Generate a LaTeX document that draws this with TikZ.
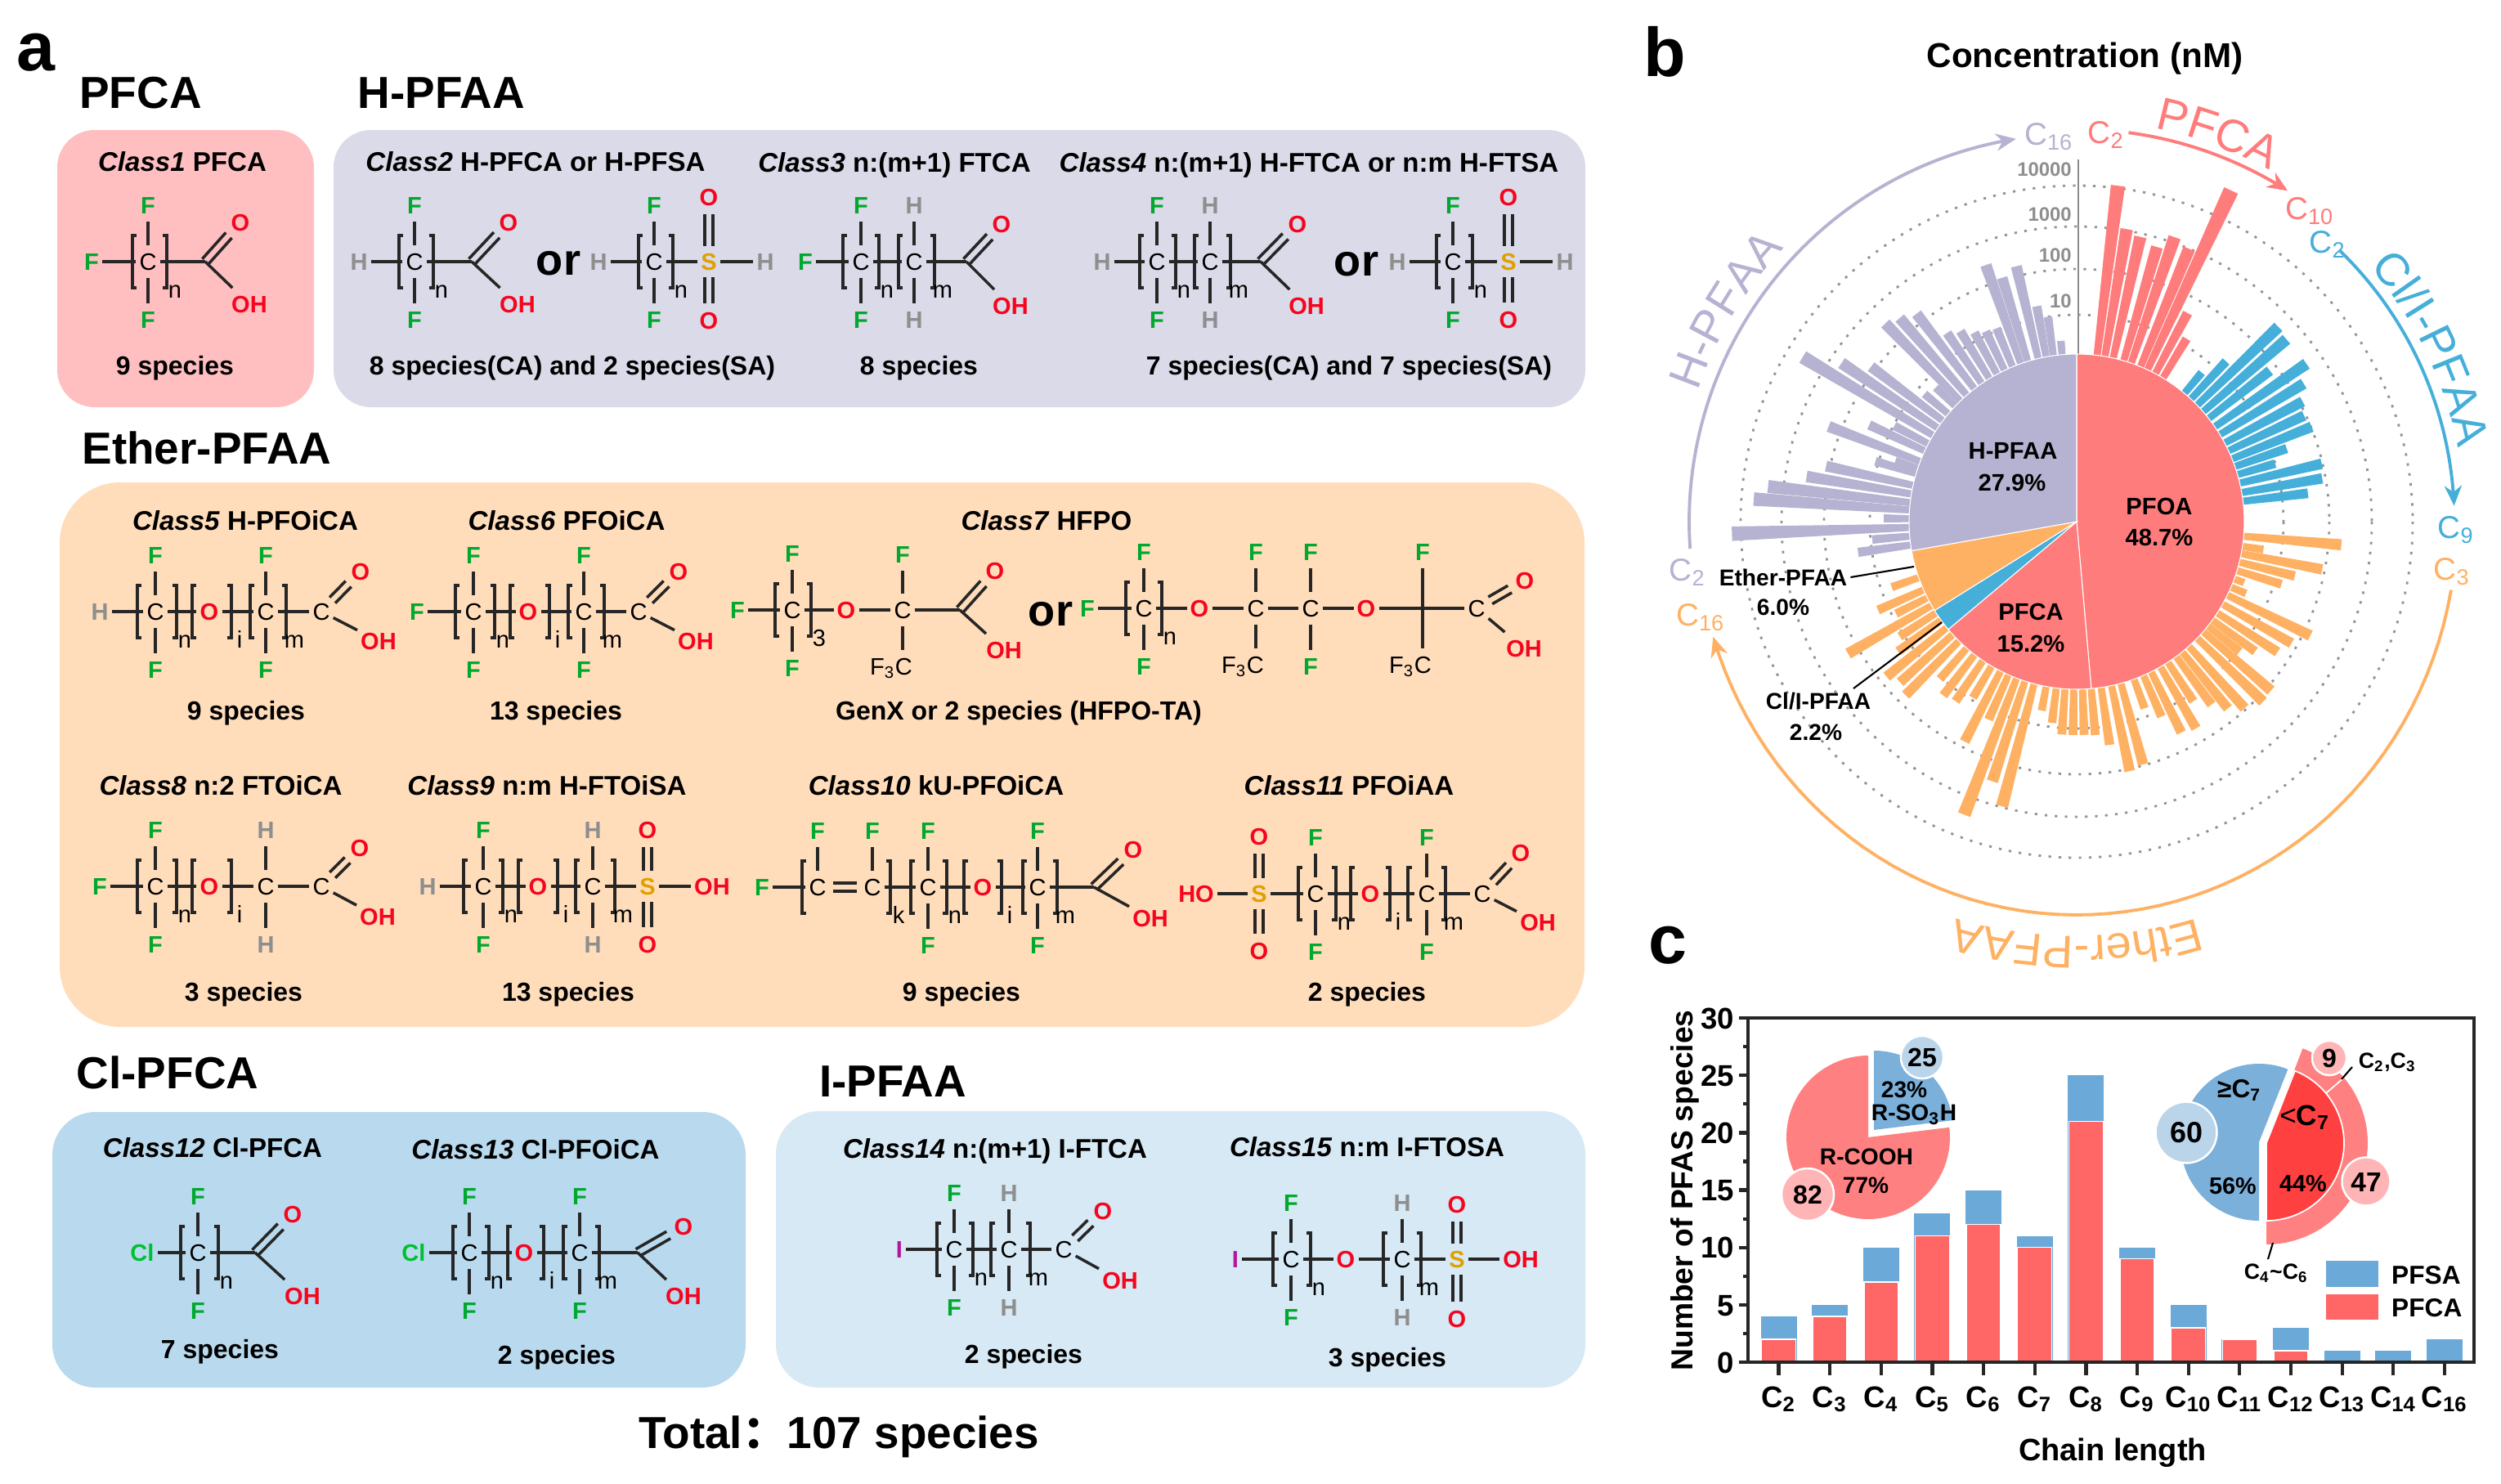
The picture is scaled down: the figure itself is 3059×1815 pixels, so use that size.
\documentclass[tikz,border=0pt]{standalone}
\usepackage{fontspec}
\setmainfont{Liberation Sans}
\newfontfamily\cjkfont{Noto Sans CJK SC}
\usetikzlibrary{calc,arrows.meta,decorations.text}

\definecolor{colF}{HTML}{00A82E}
\definecolor{colH}{HTML}{8E8E8E}
\definecolor{colO}{HTML}{F5051E}
\definecolor{colS}{HTML}{E0A000}
\definecolor{colCl}{HTML}{00C030}
\definecolor{colI}{HTML}{B5159D}
\definecolor{boxP}{HTML}{FFBFC1}
\definecolor{boxH}{HTML}{DADAE8}
\definecolor{boxE}{HTML}{FFDDBB}
\definecolor{boxC}{HTML}{B9DAEE}
\definecolor{boxI}{HTML}{D6E9F5}
\definecolor{pieP}{HTML}{FF7C7C}
\definecolor{pieH}{HTML}{B5B3D1}
\definecolor{pieE}{HTML}{FFB163}
\definecolor{pieC}{HTML}{45AFDA}
\definecolor{barR}{HTML}{FF6666}
\definecolor{barB}{HTML}{6AA9D8}
\definecolor{insR}{HTML}{FF8080}
\definecolor{insD}{HTML}{FF4040}
\definecolor{insB}{HTML}{7BB0DA}
\definecolor{bubR}{HTML}{FFB5B5}
\definecolor{bubB}{HTML}{BAD5EA}

\tikzset{
  x=0.01cm,y=-0.01cm,
  tb/.style={font=\fontsize{#1}{#1}\selectfont\bfseries,text height={0.72*#1pt},text depth=0pt,inner sep=1pt},
  tr/.style={font=\fontsize{#1}{#1}\selectfont,text height={0.72*#1pt},text depth=0pt,inner sep=1pt},
  head/.style={tb=15.6},
  clabel/.style={tb=9.4},
  spec/.style={tb=9.1},
  panel/.style={tb=24},
  orword/.style={tb=15.4},
  atom/.style={tr=8.25,inner xsep=1pt,inner ysep=2.5pt},
  atomb/.style={tb=8.25,inner xsep=1pt,inner ysep=2.5pt},
  bond/.style={line width=1pt,black!85},
  brack/.style={line width=.9pt,black!85},
  axisline/.style={line width=1.2pt,black!85},
  ring/.style={line width=.8pt,black!42,dash pattern=on .9pt off 2.6pt},
  arcline/.style={line width=1.1pt,-{Stealth[length=7pt,width=6pt]}},
  leader/.style={line width=.6pt,black},
  bubble/.style={circle,draw=white,line width=.7pt},
}

\newcommand{\atm}[5]{\node[atomb,text=#4] (#1) at (#2,#3) {#5};}
\newcommand{\cunit}[5]{%
  \node[atom] (#1) at (#2,#3) {C};
  \node[atomb,text=col#4] (#1t) at (#2,#3-69) {#4};
  \node[atomb,text=col#5] (#1b) at (#2,#3+71) {#5};
  \draw[bond] (#1) -- (#1t);
  \draw[bond] (#1) -- (#1b);}
\newcommand{\brk}[5]{%
  \draw[brack] (#2-#4+5,#3-32) -| (#2-#4,#3+32) -- ++(5,0);
  \draw[brack] (#2+#4-5,#3-32) -| (#2+#4,#3+32) -- ++(-5,0);
  \node[atom,inner ysep=0pt] (#1) at (#2+#4+10,#3+34) {#5};}
\newcommand{\dbl}[4]{%
  \draw[bond,shorten <=#3,shorten >=#4] ($(#1)!1.4pt!90:(#2)$) -- ($(#2)!1.4pt!-90:(#1)$);
  \draw[bond,shorten <=#3,shorten >=#4] ($(#1)!1.4pt!-90:(#2)$) -- ($(#2)!1.4pt!90:(#1)$);}
\newcommand{\acid}[7]{%
  \coordinate (#1) at (#2,#3);
  \atm{#1o}{#2+#4}{#3+#5}{colO}{O}
  \atm{#1h}{#2+#6}{#3+#7}{colO}{OH}
  \dbl{#1}{#1o}{0pt}{6pt}
  \draw[bond] (#1) -- (#1h);}
\newcommand{\acidc}[7]{%
  \node[atom] (#1) at (#2,#3) {C};
  \atm{#1o}{#2+#4}{#3+#5}{colO}{O}
  \atm{#1h}{#2+#6}{#3+#7}{colO}{OH}
  \dbl{#1}{#1o}{5.5pt}{6pt}
  \draw[bond] (#1) -- (#1h);}
\newcommand{\sulf}[5]{%
  \node[atomb,text=colS] (#1) at (#2,#3) {S};
  \atm{#1t}{#2}{#3+#4}{colO}{O}
  \atm{#1b}{#2}{#3+#5}{colO}{O}
  \dbl{#1}{#1t}{5.5pt}{6pt}
  \dbl{#1}{#1b}{5.5pt}{6pt}}
\newcommand{\sector}[6]{%
  \path[#1] (#2,#3) -- plot[domain=#5:#6,samples=70] ({#2+#4*sin(\x)},{#3-#4*cos(\x)}) -- cycle;}
\newcommand{\bars}[2]{%
  \foreach \ang/\rad in {#2}
    \fill[#1] ({\ang-91.2}:205) -- ({\ang-91.2}:\rad) -- ({\ang-88.8}:\rad) -- ({\ang-88.8}:205) -- cycle;}
\newcommand{\bigarc}[6]{%
  \draw[arcline,#1] plot[domain=#2:#3,samples=60] ({#4*sin(\x)},{-#5*cos(\x)});}
\newcommand{\arctext}[5]{%
  \path[decorate,decoration={text along path,text align=center,
    text={|\fontsize{16}{16}\selectfont\color{#1}|#2}}]
    plot[domain=#4:#5,samples=60] ({#3*sin(\x)},{-#3*cos(\x)});}

\begin{document}
\begin{tikzpicture}
\useasboundingbox (0,0) rectangle (3059,1815);
\fill[white] (0,0) rectangle (3059,1815);

\fill[boxP,rounded corners=13pt] (70,159) rectangle (384,498);
\fill[boxH,rounded corners=13pt] (408,159) rectangle (1939,498);
\fill[boxE,rounded corners=21pt] (73,590) rectangle (1938,1256);
\fill[boxC,rounded corners=15pt] (64,1360) rectangle (912,1697);
\fill[boxI,rounded corners=15pt] (949,1359) rectangle (1939,1697);

\node[panel] (pa) at (44,56) {a};
\node[panel] (pb) at (2036,63) {b};
\node[panel] (pc) at (2040,1148) {c};
\node[head] (hP) at (172,113) {PFCA};
\node[head] (hH) at (540,113) {H-PFAA};
\node[head] (hE) at (253,548) {Ether-PFAA};
\node[head] (hC) at (205,1312) {Cl-PFCA};
\node[head] (hI) at (1092,1322) {I-PFAA};
\node[head] (total) at (1026,1752) {Total{\cjkfont ：}107 species};

\node[clabel] (l1) at (223,198) {\textit{Class1} PFCA};
\node[clabel] (l2) at (655,198) {\textit{Class2} H-PFCA or H-PFSA};
\node[clabel] (l3) at (1094,199) {\textit{Class3} n:(m+1) FTCA};
\node[clabel] (l4) at (1601,199) {\textit{Class4} n:(m+1) H-FTCA or n:m H-FTSA};
\node[clabel] (l5) at (300,637) {\textit{Class5} H-PFOiCA};
\node[clabel] (l6) at (693,637) {\textit{Class6} PFOiCA};
\node[clabel] (l7) at (1280,637) {\textit{Class7} HFPO};
\node[clabel] (l8) at (270,961) {\textit{Class8} n:2 FTOiCA};
\node[clabel] (l9) at (669,961) {\textit{Class9} n:m H-FTOiSA};
\node[clabel] (l10) at (1145,961) {\textit{Class10} kU-PFOiCA};
\node[clabel] (l11) at (1650,961) {\textit{Class11} PFOiAA};
\node[clabel] (l12) at (260,1404) {\textit{Class12} Cl-PFCA};
\node[clabel] (l13) at (655,1406) {\textit{Class13} Cl-PFOiCA};
\node[clabel] (l14) at (1217,1405) {\textit{Class14} n:(m+1) I-FTCA};
\node[clabel] (l15) at (1672,1403) {\textit{Class15} n:m I-FTOSA};

\node[spec] (s1) at (214,447) {9 species};
\node[spec] (s2) at (700,447) {8 species(CA) and 2 species(SA)};
\node[spec] (s3) at (1124,447) {8 species};
\node[spec] (s4) at (1650,447) {7 species(CA) and 7 species(SA)};
\node[spec] (s5) at (301,869) {9 species};
\node[spec] (s6) at (680,869) {13 species};
\node[spec] (s7) at (1246,869) {GenX or 2 species (HFPO-TA)};
\node[spec] (s8) at (298,1213) {3 species};
\node[spec] (s9) at (695,1213) {13 species};
\node[spec] (s10) at (1176,1213) {9 species};
\node[spec] (s11) at (1672,1213) {2 species};
\node[spec] (s12) at (269,1650) {7 species};
\node[spec] (s13) at (681,1657) {2 species};
\node[spec] (s14) at (1252,1656) {2 species};
\node[spec] (s15) at (1697,1660) {3 species};

\node[orword] (or1) at (683,317) {or};
\node[orword] (or2) at (1659,318) {or};
\node[orword] (or3) at (1285,746) {or};

% class 1
\atm{aF}{112}{320}{colF}{F}
\cunit{aC}{181}{320}{F}{F}
\acid{aA}{251}{320}{43}{-48}{54}{52}
\draw[bond] (aF) -- (aC) -- (aA);
\brk{aN}{183}{320}{21}{n}

% class 2
\atm{bH}{439}{320}{colH}{H}
\cunit{bC}{507}{320}{F}{F}
\acid{bA}{577}{320}{45}{-48}{56}{52}
\draw[bond] (bH) -- (bC) -- (bA);
\brk{bN}{509}{320}{21}{n}
\atm{cH}{732}{320}{colH}{H}
\cunit{cC}{800}{320}{F}{F}
\sulf{cS}{867}{320}{-79}{72}
\atm{cE}{936}{320}{colH}{H}
\draw[bond] (cH) -- (cC) -- (cS) -- (cE);
\brk{cN}{802}{320}{21}{n}

% class 3
\atm{dF}{985}{320}{colF}{F}
\cunit{dC}{1053}{320}{F}{F}
\cunit{dD}{1118}{320}{H}{H}
\acid{dA}{1182}{320}{43}{-46}{54}{54}
\draw[bond] (dF) -- (dC) -- (dD) -- (dA);
\brk{dN}{1053}{320}{22}{n}
\brk{dM}{1121}{320}{22}{m}

% class 4
\atm{eH}{1348}{320}{colH}{H}
\cunit{eC}{1415}{320}{F}{F}
\cunit{eD}{1480}{320}{H}{H}
\acid{eA}{1542}{320}{45}{-46}{56}{54}
\draw[bond] (eH) -- (eC) -- (eD) -- (eA);
\brk{eN}{1416}{320}{22}{n}
\brk{eM}{1483}{320}{22}{m}
\atm{fH}{1709}{320}{colH}{H}
\cunit{fC}{1777}{320}{F}{F}
\sulf{fS}{1845}{320}{-79}{71}
\atm{fE}{1914}{320}{colH}{H}
\draw[bond] (fH) -- (fC) -- (fS) -- (fE);
\brk{fN}{1779}{320}{22}{n}

% class 5
\atm{gH}{122}{748}{colH}{H}
\cunit{gC}{190}{748}{F}{F}
\atm{gO}{256}{748}{colO}{O}
\cunit{gD}{325}{748}{F}{F}
\acidc{gA}{393}{748}{48}{-49}{70}{36}
\draw[bond] (gH) -- (gC) -- (gO) -- (gD) -- (gA);
\brk{gN}{192}{748}{24}{n}
\brk{gI}{259}{748}{24}{i}
\brk{gM}{328}{748}{22}{m}

% class 6
\atm{hF}{510}{748}{colF}{F}
\cunit{hC}{579}{748}{F}{F}
\atm{hO}{646}{748}{colO}{O}
\cunit{hD}{714}{748}{F}{F}
\acidc{hA}{781}{748}{49}{-49}{70}{36}
\draw[bond] (hF) -- (hC) -- (hO) -- (hD) -- (hA);
\brk{hN}{581}{748}{24}{n}
\brk{hI}{648}{748}{24}{i}
\brk{hM}{717}{748}{22}{m}

% class 7
\atm{iF}{902}{746}{colF}{F}
\cunit{iC}{969}{746}{F}{F}
\atm{iO}{1035}{746}{colO}{O}
\node[atom] (iD) at (1104,746) {C};
\atm{iT}{1104}{678}{colF}{F}
\node[atom] (iB) at (1090,815) {F\textsubscript{3}C};
\acid{iA}{1174}{746}{43}{-48}{54}{49}
\draw[bond] (iF) -- (iC) -- (iO) -- (iD) -- (iA);
\draw[bond] (iD) -- (iT);
\draw[bond] (iD) -- (iD |- iB.north);
\brk{iN}{970}{746}{22}{3}

\atm{jF}{1330}{744}{colF}{F}
\cunit{jC}{1399}{744}{F}{F}
\atm{jO}{1467}{744}{colO}{O}
\node[atom] (jD) at (1536,744) {C};
\atm{jT}{1536}{675}{colF}{F}
\node[atom] (jB) at (1520,813) {F\textsubscript{3}C};
\cunit{jE}{1603}{744}{F}{F}
\atm{jP}{1671}{744}{colO}{O}
\coordinate (jG) at (1740,744);
\atm{jU}{1740}{675}{colF}{F}
\node[atom] (jV) at (1725,813) {F\textsubscript{3}C};
\acidc{jA}{1806}{744}{59}{-34}{58}{49}
\draw[bond] (jF) -- (jC) -- (jO) -- (jD) -- (jE) -- (jP) -- (jG) -- (jA);
\draw[bond] (jD) -- (jT);
\draw[bond] (jD) -- (jD |- jB.north);
\draw[bond] (jU) -- (jG) -- (jG |- jV.north);
\brk{jN}{1399}{744}{22}{n}

% class 8
\atm{kF}{122}{1084}{colF}{F}
\cunit{kC}{190}{1084}{F}{F}
\atm{kO}{256}{1084}{colO}{O}
\cunit{kD}{325}{1084}{H}{H}
\acidc{kA}{393}{1084}{47}{-47}{69}{37}
\draw[bond] (kF) -- (kC) -- (kO) -- (kD) -- (kA);
\brk{kN}{192}{1084}{24}{n}
\brk{kI}{259}{1084}{24}{i}

% class 9
\atm{mH}{523}{1084}{colH}{H}
\cunit{mC}{591}{1084}{F}{F}
\atm{mO}{658}{1084}{colO}{O}
\cunit{mD}{725}{1084}{H}{H}
\sulf{mS}{792}{1084}{-69}{71}
\atm{mE}{871}{1084}{colO}{OH}
\draw[bond] (mH) -- (mC) -- (mO) -- (mD) -- (mS) -- (mE);
\brk{mN}{591}{1084}{24}{n}
\brk{mI}{658}{1084}{24}{i}
\brk{mM}{728}{1084}{24}{m}

% class 10
\atm{nF}{932}{1085}{colF}{F}
\node[atom] (nC) at (1000,1085) {C};
\atm{nT}{1000}{1016}{colF}{F}
\node[atom] (nD) at (1067,1085) {C};
\atm{nU}{1067}{1016}{colF}{F}
\cunit{nE}{1135}{1085}{F}{F}
\atm{nO}{1202}{1085}{colO}{O}
\cunit{nG}{1269}{1085}{F}{F}
\acid{nA}{1338}{1085}{48}{-46}{69}{38}
\draw[bond] (nF) -- (nC);
\dbl{nC}{nD}{5.5pt}{5.5pt}
\draw[bond] (nC) -- (nT);
\draw[bond] (nD) -- (nU);
\draw[bond] (nD) -- (nE) -- (nO) -- (nG) -- (nA);
\brk{nK}{1035}{1085}{54}{k}
\brk{nN}{1136}{1085}{22}{n}
\brk{nI}{1202}{1085}{23}{i}
\brk{nM}{1272}{1085}{21}{m}

% class 11
\atm{pH}{1463}{1093}{colO}{HO}
\sulf{pS}{1540}{1093}{-70}{70}
\cunit{pC}{1609}{1093}{F}{F}
\atm{pO}{1676}{1093}{colO}{O}
\cunit{pD}{1745}{1093}{F}{F}
\acidc{pA}{1813}{1093}{47}{-50}{68}{35}
\draw[bond] (pH) -- (pS) -- (pC) -- (pO) -- (pD) -- (pA);
\brk{pN}{1611}{1093}{23}{n}
\brk{pI}{1676}{1093}{24}{i}
\brk{pM}{1745}{1093}{23}{m}

% class 12
\atm{qL}{174}{1532}{colCl}{Cl}
\cunit{qC}{242}{1532}{F}{F}
\acid{qA}{312}{1532}{46}{-47}{58}{53}
\draw[bond] (qL) -- (qC) -- (qA);
\brk{qN}{244}{1532}{23}{n}

% class 13
\atm{rL}{506}{1532}{colCl}{Cl}
\cunit{rC}{574}{1532}{F}{F}
\atm{rO}{641}{1532}{colO}{O}
\cunit{rD}{709}{1532}{F}{F}
\acid{rA}{780}{1532}{56}{-32}{56}{53}
\draw[bond] (rL) -- (rC) -- (rO) -- (rD) -- (rA);
\brk{rN}{576}{1532}{22}{n}
\brk{rI}{643}{1532}{22}{i}
\brk{rM}{711}{1532}{22}{m}

% class 14
\atm{tL}{1100}{1528}{colI}{I}
\cunit{tC}{1167}{1528}{F}{F}
\cunit{tD}{1234}{1528}{H}{H}
\acidc{tA}{1301}{1528}{48}{-47}{69}{38}
\draw[bond] (tL) -- (tC) -- (tD) -- (tA);
\brk{tN}{1168}{1528}{22}{n}
\brk{tM}{1236}{1528}{24}{m}

% class 15
\atm{uL}{1511}{1540}{colI}{I}
\cunit{uC}{1579}{1540}{F}{F}
\atm{uO}{1646}{1540}{colO}{O}
\cunit{uD}{1715}{1540}{H}{H}
\sulf{uS}{1782}{1540}{-67}{73}
\atm{uE}{1860}{1540}{colO}{OH}
\draw[bond] (uL) -- (uC) -- (uO) -- (uD) -- (uS) -- (uE);
\brk{uN}{1580}{1540}{23}{n}
\brk{uM}{1715}{1540}{23}{m}

% panel b
\node[tb=12] (ctitle) at (2550,67) {Concentration (nM)};
\begin{scope}[shift={(2540,638)}]
\foreach \rr in {253,309,361,411}
  \draw[ring] (0,0) circle[radius=\rr];
\draw[line width=.5pt,black!45] (2,-443) -- (2,0);
\node[tb=6.8,text=colH,anchor=east] (t4) at (-2,-431) {10000};
\node[tb=6.8,text=colH,anchor=east] (t3) at (-2,-376) {1000};
\node[tb=6.8,text=colH,anchor=east] (t2) at (-2,-326) {100};
\node[tb=6.8,text=colH,anchor=east] (t1) at (-2,-270) {10};

\bars{pieP}{7/414,9.7/363,12.6/357,16.3/350,19/368,22.4/361,25/447,28/289,31/261}
\bars{pieC}{40/238,43/268,46/343,49/340,52/300,55.5/341,58.7/325,62/313,65/307,68/310,70.8/272,73.7/253,76.7/308,80/305,83/285}
\bars{pieE}{95/325,98.5/231,101/306,104/275,107/262,110/218,113/225,116/318,119.5/302,123/293,126/270,128.5/255,131/315,134/317,138/307,141/294,143.6/278,147/262,150/292,153.6/288,156.5/260,160/243,164.7/308,168/312,171.6/276,175/262,178/261,181/261,184/261,187/248,190.5/235,194.7/360,198/334,201/384,204/265,207/302,210.5/250,214/265,217.5/268,221/255,224.6/298,227.7/292,230.8/300,234/270,237/258,240/323,243/248,246/266,250.5/240}
\bars{pieH}{262/270,265/251,268/422,271/236,274/396,276.5/380,279.5/335,282.5/314,286.7/257,288.5/234,291/325,295/280,297.7/252,301/391,304/347,307/315,310/243,313.6/238,316/337,319/330,322.4/321,325.5/280,328.6/273,331.6/263,334.5/258,337.5/256,340.5/333,343/312,346.7/321,349.5/268,352/253,355/222}

\sector{fill=pieP,draw=white,line width=.3pt}{0}{0}{205}{0}{175}
\sector{fill=pieP,draw=white,line width=.3pt}{0}{0}{205}{175}{230}
\sector{fill=pieC,draw=white,line width=.3pt}{0}{0}{205}{230}{238}
\sector{fill=pieE,draw=white,line width=.3pt}{0}{0}{205}{238}{260}
\sector{fill=pieH,draw=white,line width=.3pt}{0}{0}{205}{260}{360}

\bigarc{pieP}{7.6}{32.5}{480}{480}{}
\bigarc{pieC}{44}{87.6}{462}{462}{}
\bigarc{pieE}{100}{253}{465}{481}{}
\bigarc{pieH}{266}{351}{474}{474}{}

\arctext{pieP}{PFCA}{490}{-10}{50}
\arctext{pieC}{Cl/I-PFAA}{475}{34}{94}
\arctext{pieE}{Ether-PFAA}{507}{150}{210}
\arctext{pieH}{H-PFAA}{490}{271}{331}
\end{scope}

\node[tr=11,text=pieH] (n1) at (2506,164) {C\textsubscript{16}};
\node[tr=11,text=pieP] (n2) at (2576,162) {C\textsubscript{2}};
\node[tr=11,text=pieP] (n3) at (2825,255) {C\textsubscript{10}};
\node[tr=11,text=pieC] (n4) at (2847,296) {C\textsubscript{2}};
\node[tr=11,text=pieC] (n5) at (3004,645) {C\textsubscript{9}};
\node[tr=11,text=pieE] (n6) at (2999,696) {C\textsubscript{3}};
\node[tr=11,text=pieE] (n7) at (2080,752) {C\textsubscript{16}};
\node[tr=11,text=pieH] (n8) at (2064,697) {C\textsubscript{2}};

\node[tb=8.3] (pl1) at (2462,551) {H-PFAA};
\node[tb=8.3] (pl2) at (2461,590) {27.9\%};
\node[tb=8.3] (pl3) at (2641,619) {PFOA};
\node[tb=8.3] (pl4) at (2641,657) {48.7\%};
\node[tb=8.3] (pl5) at (2484,748) {PFCA};
\node[tb=8.3] (pl6) at (2484,787) {15.2\%};
\node[tb=8] (pl7) at (2181,706) {Ether-PFAA};
\node[tb=8] (pl8) at (2181,742) {6.0\%};
\node[tb=8] (pl9) at (2224,857) {Cl/I-PFAA};
\node[tb=8] (pl10) at (2221,895) {2.2\%};
\coordinate (ptE) at (2341,693);
\coordinate (ptC) at (2375,761);
\coordinate (ptD) at (2267,842);
\draw[leader] (pl7.east) -- (ptE);
\draw[leader] (ptD) -- (ptC);

% panel c
\foreach \i/\lab/\red/\tot in {0/2/2/4,1/3/4/5,2/4/7/10,3/5/11/13,4/6/12/15,5/7/10/11,6/8/21/25,7/9/9/10,8/10/3/5,9/11/2/2,10/12/1/3,11/13/0/1,12/14/0/1,13/16/0/2}{
  \pgfmathsetmacro\bx{2175.5+62.65*\i}
  \fill[barB] (\bx-22,1666) rectangle (\bx+22,1666-14.03*\tot);
  \ifnum\red>0
    \fill[barR,draw=white,line width=.4pt] (\bx-21,1666) rectangle (\bx+21,1666-14.03*\red);
  \fi
  \draw[axisline] (\bx,1666) -- (\bx,1682);
  \node[tb=10.4] (xl\i) at (\bx,1708) {C\textsubscript{\lab}};
}
\draw[axisline] (2138,1245) rectangle (3026,1666);
\foreach \v in {0,5,...,30}{
  \draw[axisline] (2138,1666-14.03*\v) -- (2127,1666-14.03*\v);
  \node[tb=10.4,anchor=east] (yl\v) at (2125,1666-14.03*\v) {\v};
}
\foreach \v in {2.5,7.5,...,27.5}
  \draw[axisline] (2138,1666-14.03*\v) -- (2132,1666-14.03*\v);
\node[tb=10.6,rotate=90] (ytitle) at (2057,1456) {Number of PFAS species};
\node[tb=10.8] (xtitle) at (2584,1773) {Chain length};
\fill[barB] (2845,1542) rectangle (2909,1574);
\fill[barR] (2845,1583) rectangle (2909,1614);
\node[tb=9,anchor=west] (lgS) at (2921,1559) {PFSA};
\node[tb=9,anchor=west] (lgC) at (2921,1599) {PFCA};

\sector{fill=insR}{2285}{1391}{100}{83}{360}
\sector{fill=insB}{2292}{1382}{97}{0}{83}
\node[bubble,fill=bubB,minimum size=13.4pt,tb=9.1] (b25) at (2351,1293) {25};
\node[bubble,fill=bubR,minimum size=18.2pt,tb=9.1] (b82) at (2211,1461) {82};
\node[tb=8] (i1) at (2329,1332) {23\%};
\node[tb=8] (i2) at (2341,1360) {R-SO\textsubscript{3}H};
\node[tb=8] (i3) at (2283,1414) {R-COOH};
\node[tb=8] (i4) at (2282,1449) {77\%};

\sector{fill=insB}{2763}{1397}{96}{180}{381.6}
\sector{fill=insR}{2772}{1398}{124}{21}{180}
\sector{fill=insD,draw=white,line width=.5pt}{2772}{1398}{95}{21.6}{180}
\coordinate (sepA) at (2845,1337);
\coordinate (sepB) at (2867,1318);
\draw[white,line width=.5pt] (sepA) -- (sepB);
\node[bubble,fill=bubB,minimum size=21.3pt,tb=10.2] (b60) at (2674,1385) {60};
\node[bubble,fill=bubR,minimum size=16.8pt,tb=9.5] (b47) at (2894,1445) {47};
\node[bubble,fill=bubR,minimum size=12pt,tb=9.1] (b9) at (2849,1294) {9};
\node[tb=9] (i5) at (2739,1331) {≥C\textsubscript{7}};
\node[tb=10] (i6) at (2819,1364) {{\fontseries{m}\selectfont <}C\textsubscript{7}};
\node[tb=8.2] (i7) at (2731,1450) {56\%};
\node[tb=8.2] (i8) at (2817,1447) {44\%};
\node[tb=7.6] (i9) at (2920,1297) {C\textsubscript{2},C\textsubscript{3}};
\node[tb=7.6] (i10) at (2784,1555) {C\textsubscript{4}\textasciitilde C\textsubscript{6}};
\coordinate (ptT) at (2864,1320);
\coordinate (ptS) at (2877,1305);
\coordinate (ptB) at (2780,1520);
\coordinate (ptU) at (2774,1540);
\draw[leader] (ptS) -- (ptT);
\draw[leader] (ptU) -- (ptB);
\end{tikzpicture}
\end{document}
